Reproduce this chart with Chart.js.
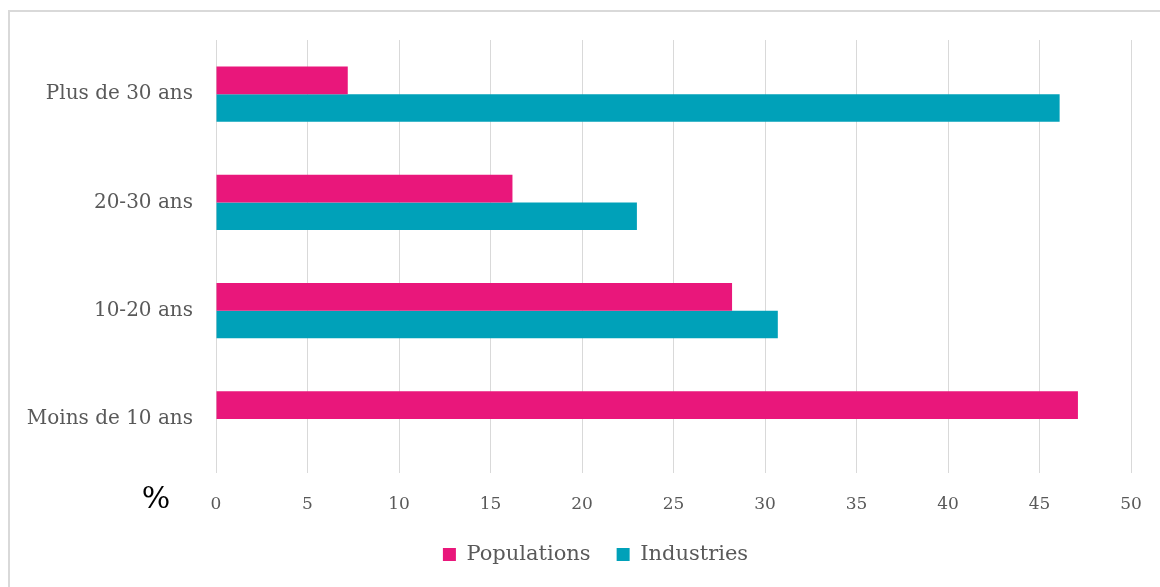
<!DOCTYPE html>
<html lang="fr">
<head>
<meta charset="utf-8">
<title>Populations et industries par ancienneté</title>
<script src="https://cdn.jsdelivr.net/npm/chart.js@4/dist/chart.umd.min.js"></script>
<style>
  html, body { margin: 0; padding: 0; background: #fff; }
  #wrap { width: 1160px; height: 587px; }
</style>
</head>
<body>
<div id="wrap"><canvas id="ageChart" width="1160" height="587"></canvas></div>
<script>
// Tranches d'âge, du haut vers le bas
const ageGroups = ['Plus de 30 ans', '20-30 ans', '10-20 ans', 'Moins de 10 ans'];
const populations = [7.2, 16.2, 28.2, 47.1];
const industries = [46.1, 23.0, 30.7, null];
const xTicks = [0, 5, 10, 15, 20, 25, 30, 35, 40, 45, 50];

const PINK = '#E9177B';
const TEAL = '#00A1B9';
const GRID = '#d9d9d9';
const TEXT = '#595959';
const SERIF = '"DejaVu Serif", "Liberation Serif", serif';
const LEGEND_SHIFT = 30;

// light frame around the chart and the unit marker under the category labels
const framePlugin = {
  id: 'frame',
  afterLayout(chart) {
    // legend sits a little right of the canvas centre
    chart.legend.left += LEGEND_SHIFT;
    chart.legend.right += LEGEND_SHIFT;
  },
  beforeDraw(chart) {
    const { ctx } = chart;
    ctx.save();
    ctx.strokeStyle = GRID;
    ctx.lineWidth = 2;
    ctx.beginPath();
    ctx.moveTo(9, chart.height);
    ctx.lineTo(9, 11);
    ctx.lineTo(chart.width, 11);
    ctx.stroke();
    ctx.restore();
  },
  afterDraw(chart) {
    const { ctx } = chart;
    const x = chart.scales.x;
    ctx.save();
    ctx.fillStyle = '#000';
    ctx.font = '30px ' + SERIF;
    ctx.textAlign = 'center';
    ctx.textBaseline = 'middle';
    ctx.fillText('%', 156, x.top + 27);
    ctx.restore();
  }
};

new Chart(document.getElementById('ageChart'), {
  type: 'bar',
  data: {
    labels: ageGroups,
    datasets: [
      { label: 'Populations', data: populations, backgroundColor: PINK },
      { label: 'Industries', data: industries, backgroundColor: TEAL }
    ]
  },
  options: {
    indexAxis: 'y',
    responsive: false,
    animation: false,
    categoryPercentage: 0.51,
    barPercentage: 1,
    layout: { padding: { top: 40, right: 29, bottom: 12, left: 0 } },
    scales: {
      x: {
        min: 0,
        max: 50,
        afterBuildTicks: scale => { scale.ticks = xTicks.map(v => ({ value: v })); },
        afterFit: scale => {
          scale.height = 45;
          scale.paddingLeft = 0;
          scale.paddingRight = 0;
        },
        grid: { color: GRID, lineWidth: 1, drawTicks: false },
        border: { display: false },
        ticks: { padding: 21, color: TEXT, font: { family: SERIF, size: 17 } }
      },
      y: {
        afterFit: scale => { scale.width = 216; },
        grid: { display: false, drawTicks: false },
        border: { display: false },
        ticks: { padding: 23, color: TEXT, font: { family: SERIF, size: 20 } }
      }
    },
    plugins: {
      legend: {
        position: 'bottom',
        labels: {
          boxWidth: 13,
          boxHeight: 13,
          padding: 26,
          color: TEXT,
          font: { family: SERIF, size: 21 }
        }
      },
      tooltip: { enabled: false }
    }
  },
  plugins: [framePlugin]
});
</script>
</body>
</html>
